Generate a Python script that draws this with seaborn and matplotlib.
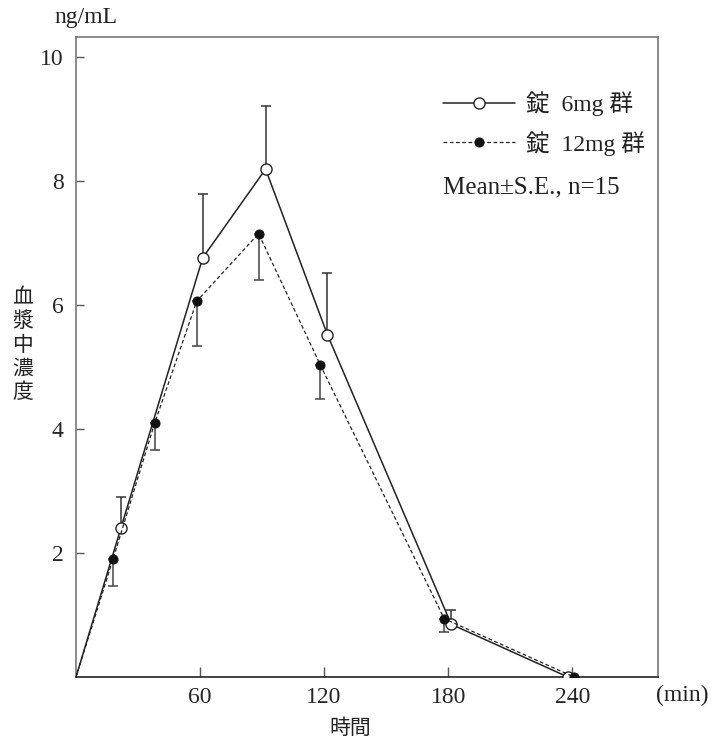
import numpy as np
import pandas as pd
import matplotlib
matplotlib.use('Agg')
import matplotlib.pyplot as plt
import seaborn as sns

# ── Data ──────────────────────────────────────────────────────
t_6mg = [0, 21.7, 61.3, 91.7, 121.6, 181.5, 237.9]
c_6mg = [0, 2.40, 6.76, 8.19, 5.52, 0.85, 0.0]
se_6mg = [0, 0.50, 1.03, 1.02, 1.00, 0.23, 0.0]

t_12mg = [0, 17.9, 38.1, 58.4, 88.3, 118.2, 178.1, 240.8]
c_12mg = [0, 1.90, 4.10, 6.06, 7.15, 5.03, 0.94, 0.0]
se_12mg = [0, 0.43, 0.44, 0.72, 0.75, 0.55, 0.21, 0.0]

x_ticks = [60, 120, 180, 240]
y_ticks = [2, 4, 6, 8, 10]

label_6 = '錠\u20026mg 群'
label_12 = '錠\u200212mg 群'

# ── Style ─────────────────────────────────────────────────────
sns.set_style('ticks')
fonts = ['Liberation Serif', 'Noto Sans CJK JP']
plt.rcParams['font.family'] = fonts
plt.rcParams['text.color'] = '#222222'

W, H = 713, 740
fig = plt.figure(figsize=(W / 100, H / 100), dpi=100)
# axes box in pixels: x 76..658, y 37..677
ax = fig.add_axes([76 / W, 1 - 677 / H, (658 - 76) / W, (677 - 37) / H])

df6 = pd.DataFrame({'t': t_6mg, 'c': c_6mg})
df12 = pd.DataFrame({'t': t_12mg, 'c': c_12mg})

# error bars: 6mg up only, 12mg down only
m6 = np.array(se_6mg) > 0
ax.errorbar(np.array(t_6mg)[m6], np.array(c_6mg)[m6],
            yerr=[np.zeros(m6.sum()), np.array(se_6mg)[m6]],
            fmt='none', ecolor='#333333', elinewidth=1.1, capsize=3.8, capthick=1.1, zorder=2)
m12 = np.array(se_12mg) > 0
ax.errorbar(np.array(t_12mg)[m12], np.array(c_12mg)[m12],
            yerr=[np.array(se_12mg)[m12], np.zeros(m12.sum())],
            fmt='none', ecolor='#444444', elinewidth=1.1, capsize=3.8, capthick=1.1, zorder=2)

sns.lineplot(data=df6, x='t', y='c', ax=ax, color='#222222', linewidth=1.1,
             marker='o', markevery=list(range(1, len(t_6mg))),
             markersize=8, markerfacecolor='white', markeredgecolor='#222222',
             markeredgewidth=1.0, label=label_6, zorder=3)
sns.lineplot(data=df12, x='t', y='c', ax=ax, color='#222222', linewidth=0.9,
             linestyle=(0, (3, 2)),
             marker='o', markevery=list(range(1, len(t_12mg))),
             markersize=6.5, markerfacecolor='#111111', markeredgecolor='#111111',
             label=label_12, zorder=3)

ax.set_xlim(0, 281.5)
ax.set_ylim(0, 10.32)
ax.set_xticks(x_ticks)
ax.set_yticks(y_ticks)
ax.set_xlabel('')
ax.set_ylabel('')
ax.tick_params(axis='x', direction='in', length=7, width=1, color='#555555',
               pad=7, labelsize=17)
ax.tick_params(axis='y', direction='in', length=6, width=1, color='#555555',
               pad=9, labelsize=17)
for s in ['left', 'top', 'right']:
    ax.spines[s].set_color('#777777')
    ax.spines[s].set_linewidth(1.2)
ax.spines['bottom'].set_color('#222222')
ax.spines['bottom'].set_linewidth(1.2)

# ── Legend and annotations ────────────────────────────────────
leg = ax.legend(loc='upper left', bbox_to_anchor=(0.63, 0.915), frameon=False,
                prop={'family': fonts, 'size': 17}, handlelength=3.08,
                handletextpad=0.44, labelspacing=0.62, borderpad=0,
                borderaxespad=0, numpoints=1)
ax.text(0.63, (677 - 187) / 640, 'Mean±S.E., n=15', transform=ax.transAxes,
        ha='left', va='center', fontsize=18)

fig.text(86 / W, 1 - 18 / H, 'ng/mL', ha='center', va='center', fontsize=17)
fig.text(682 / W, 1 - 695 / H, '(min)', ha='center', va='center', fontsize=17)
fig.text(350 / W, 1 - 728 / H, '時間', ha='center', va='center', fontsize=15,
         family='Noto Sans CJK JP')
fig.text(23 / W, 1 - 345 / H, '血\n漿\n中\n濃\n度', ha='center', va='center',
         fontsize=15, family='Noto Sans CJK JP', linespacing=1.1)

fig.savefig('out.png', dpi=100)
